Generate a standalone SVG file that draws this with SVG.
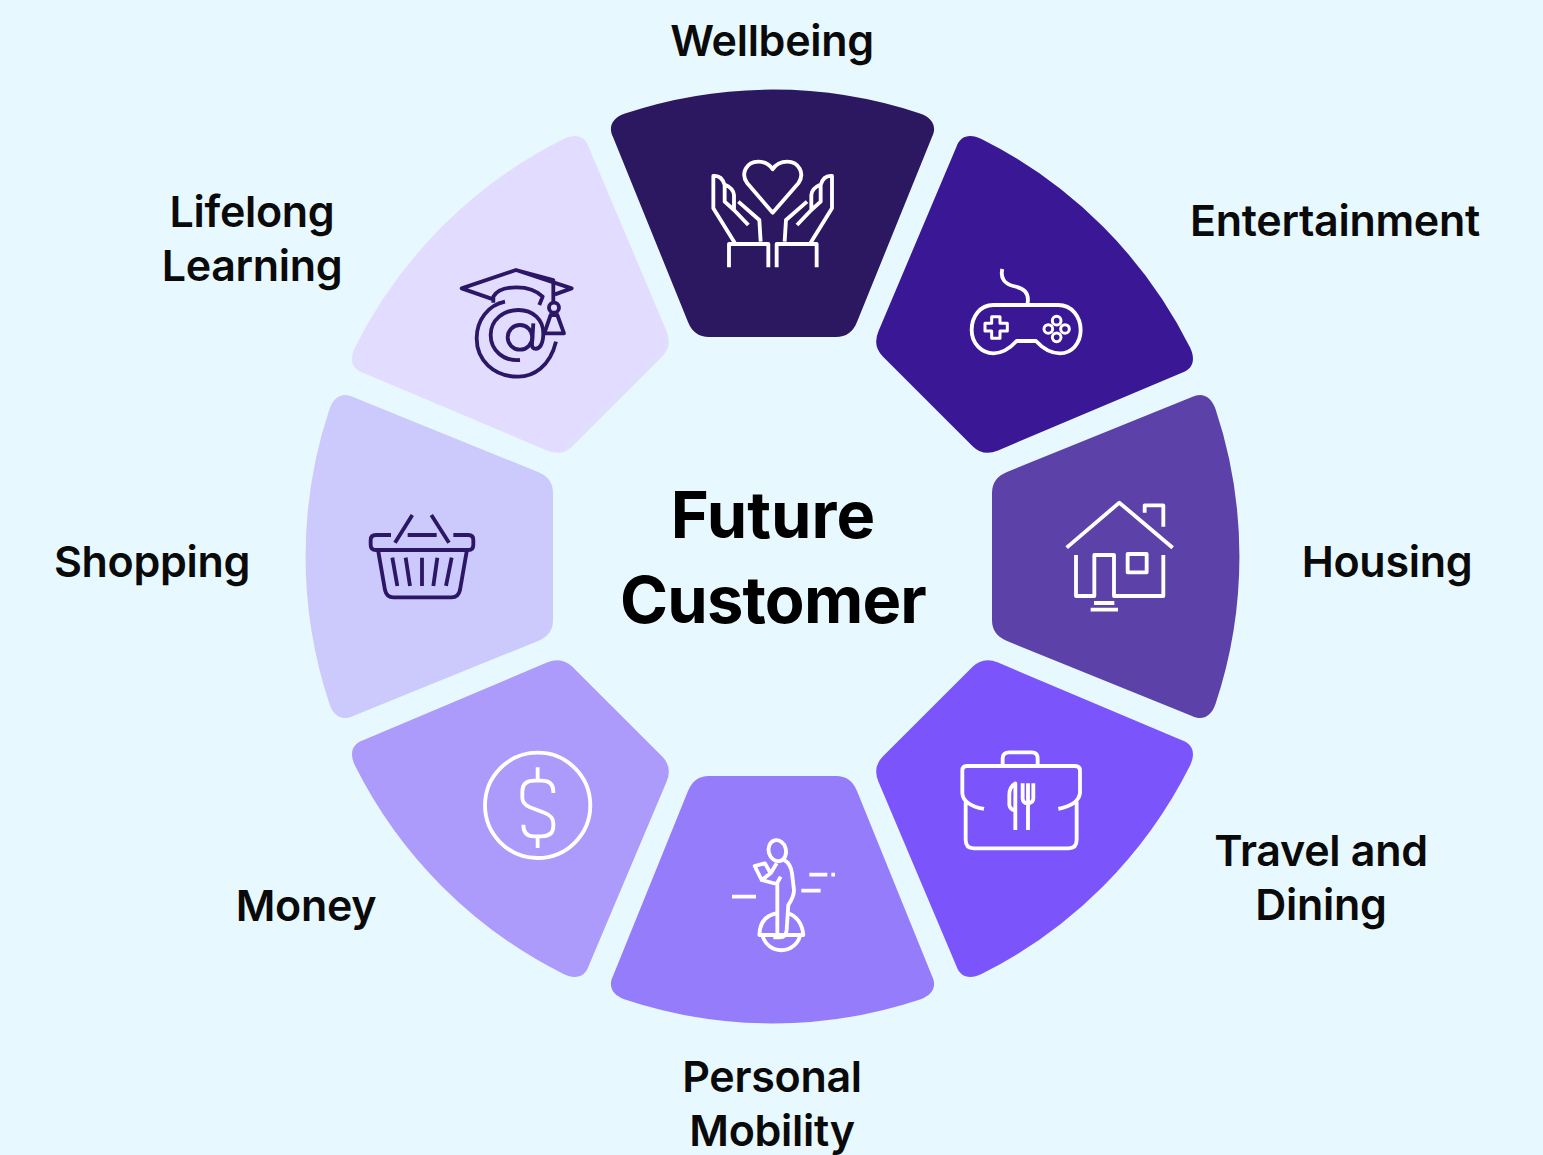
<svg xmlns="http://www.w3.org/2000/svg" width="1543" height="1155" viewBox="0 0 1543 1155">
<style>
.lbl{font-family:"Inter","Liberation Sans",sans-serif;font-weight:600;font-size:43px;fill:#0a0a0a;text-anchor:middle;letter-spacing:-.3px}
.ttl{font-family:"Inter","Liberation Sans",sans-serif;font-weight:700;font-size:65px;fill:#000;text-anchor:middle}
.ic{fill:none;stroke:#fff;stroke-width:11.5;stroke-linejoin:round}
.dk{stroke:#2c1766}
</style>
<defs>
<path id="seg" d="M625 113.5A466.5 466.5 0 0 1 920 113.5C933 118 937 127 932 137L857 322Q851 337 836 337H709Q694 337 688 322L613 137C608 127 612 118 625 113.5Z"/>
</defs>
<rect width="1543" height="1155" fill="#e8f8ff"/>
<g id="wellbeing">
<use href="#seg" fill="#2c1860"/>
<g class="ic" transform="translate(690,140) scale(.3333)">
<path d="M248 218L172 130C150 100 170 65 205 65C225 65 240 75 248 88C256 75 272 65 292 65C326 65 346 100 325 130Z"/>
<path d="M135 310L70 205V108Q95 105 104 135V185L132 210V165Q130 145 107 135M145 185L208 240L212 305M132 210L175 255"/>
<path transform="translate(496,0) scale(-1,1)" d="M135 310L70 205V108Q95 105 104 135V185L132 210V165Q130 145 107 135M145 185L208 240L212 305M132 210L175 255"/>
<path d="M117 382V312H235V382M260 382V312H380V382"/>
</g>
<text class="lbl" x="772" y="56">Wellbeing</text>
</g>
<g id="entertainment">
<use href="#seg" fill="#3a1795" transform="rotate(45 772.5 556.5)"/>
<g class="ic" transform="translate(950,255) scale(.3333)">
<path d="M232 150H130C90 150 65 185 65 225C65 265 95 295 130 295C160 295 180 280 200 258H258C278 280 300 295 330 295C365 295 392 265 392 225C392 185 365 150 325 150H232C240 110 220 100 190 93C165 87 150 70 157 42"/>
<path stroke-width="9" d="M125 185H150V205H172V228H150V250H125V228H105V205H125Z"/>
<g stroke-width="9"><circle cx="320" cy="197" r="13"/><circle cx="295" cy="222" r="13"/><circle cx="345" cy="222" r="13"/><circle cx="320" cy="247" r="13"/></g>
</g>
<text class="lbl" x="1335" y="236">Entertainment</text>
</g>
<g id="housing">
<use href="#seg" fill="#5c41a9" transform="rotate(90 772.5 556.5)"/>
<g class="ic" transform="translate(1050,490) scale(.3333)">
<path d="M50 173L208 38L368 173M284 68V46H340V110M78 195V318H133V195H192V318H340V195M132 339H193M122 359H204"/>
<rect x="233" y="192" width="57" height="55"/>
</g>
<text class="lbl" x="1387" y="577">Housing</text>
</g>
<g id="travel-dining">
<use href="#seg" fill="#7b54fb" transform="rotate(135 772.5 556.5)"/>
<g class="ic" transform="translate(950,740) scale(.3333)">
<path d="M158 75V55Q158 37 178 37H245Q263 37 263 55V75M102 207Q40 195 37 160V92Q37 78 50 78H375Q390 78 390 92V160Q385 195 325 207M47 185V300Q47 325 72 325H355Q380 325 380 300V185"/>
<path d="M218 130V175Q218 190 232 190Q250 190 250 175V130M234 130V270M196 270V130Q178 140 178 165V195Q180 208 196 212"/>
</g>
<text class="lbl" x="1321" y="866">Travel and</text>
<text class="lbl" x="1321" y="920">Dining</text>
</g>
<g id="personal-mobility">
<use href="#seg" fill="#957cfb" transform="rotate(180 772.5 556.5)"/>
<g class="ic" transform="translate(720,830) scale(.3333)">
<ellipse cx="172" cy="62" rx="26" ry="32" transform="rotate(-15 172 62)"/>
<path d="M192 90Q212 100 216 130L222 180Q222 200 205 225L200 300Q198 322 180 322H160M172 160V310M170 100L152 130L125 150L104 108L135 100L152 130M125 150L170 162L182 140"/>
<path d="M168 250Q120 260 118 315H250Q245 265 205 250M128 318A58 58 0 0 0 240 318M36 200H108M244 182H302M268 134H322M334 134H345"/>
</g>
<text class="lbl" x="772" y="1092">Personal</text>
<text class="lbl" x="772" y="1146">Mobility</text>
</g>
<g id="money">
<use href="#seg" fill="#ac9bfa" transform="rotate(225 772.5 556.5)"/>
<g class="ic" transform="translate(475,748) scale(.3333)">
<circle cx="188" cy="172" r="158"/>
<path d="M235 135V130Q235 98 200 98H178Q142 98 142 130V150Q142 168 165 178L210 195Q235 205 235 225V235Q235 265 200 265H178Q145 265 145 230M188 58V98M188 265V300"/>
</g>
<text class="lbl" x="306" y="921">Money</text>
</g>
<g id="shopping">
<use href="#seg" fill="#ccc9fc" transform="rotate(270 772.5 556.5)"/>
<g class="ic dk" transform="translate(360,505) scale(.3333)">
<path d="M93 90H48Q32 90 32 105V120Q32 135 48 135H325Q340 135 340 120V105Q340 90 325 90H280M143 90H230M105 113L157 30M267 113L214 30"/>
<path d="M55 140L75 255Q80 277 100 277H275Q295 277 300 255L320 140M97 158L112 243M137 158L150 243M186 158V243M232 158L220 243M275 158L258 243"/>
</g>
<text class="lbl" x="152" y="577">Shopping</text>
</g>
<g id="lifelong-learning">
<use href="#seg" fill="#e2dcff" transform="rotate(315 772.5 556.5)"/>
<g class="ic dk" transform="translate(450,260) scale(.3333)">
<path d="M130 118L35 85L198 30L365 85L315 103M198 30L310 60V130M130 128V110Q145 82 200 82Q250 82 278 110L268 135"/>
<circle cx="312" cy="143" r="15"/>
<path d="M302 165L283 220H342L322 165Z"/>
<path d="M318 245C300 320 250 350 205 350C130 350 80 300 80 235C80 180 115 135 165 125"/>
<path d="M210 300C160 305 122 270 122 225C122 180 160 150 205 150C250 150 280 180 280 220C280 250 270 268 255 266C245 265 245 255 247 240L250 190"/>
<ellipse cx="210" cy="232" rx="37" ry="37"/>
</g>
<text class="lbl" x="252" y="227">Lifelong</text>
<text class="lbl" x="252" y="281">Learning</text>
</g>
<g id="center">
<text class="ttl" x="773" y="538">Future</text>
<text class="ttl" x="773" y="623" style="letter-spacing:-.8px">Customer</text>
</g>
</svg>
